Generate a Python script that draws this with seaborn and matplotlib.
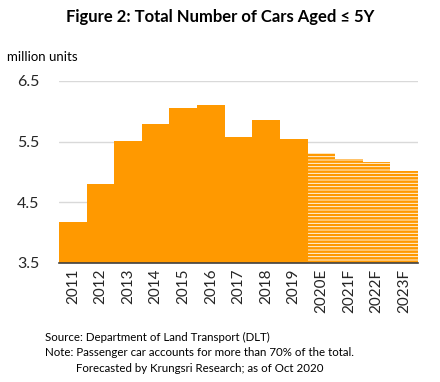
import matplotlib
matplotlib.use("Agg")
import matplotlib.pyplot as plt
import seaborn as sns
import pandas as pd

years = ["2011", "2012", "2013", "2014", "2015", "2016", "2017", "2018", "2019",
         "2020E", "2021F", "2022F", "2023F"]
values = [4.18, 4.80, 5.51, 5.79, 6.05, 6.10, 5.58, 5.86, 5.54,
          5.31, 5.21, 5.16, 5.02]
forecast = [False] * 9 + [True] * 4

sns.set_theme(style="white")
plt.rcParams['font.family'] = ['Lato', 'DejaVu Sans']
plt.rcParams['hatch.linewidth'] = 1.8

ORANGE = "#FF9900"
df = pd.DataFrame({"year": years, "value": values})

fig = plt.figure(figsize=(4.4, 3.82), dpi=100)
ax = fig.add_axes([59/440, 1 - 263/382, (418-59)/440, (263-81)/382])

sns.barplot(data=df, x="year", y="value", color=ORANGE, width=1.0,
            saturation=1, ax=ax, zorder=3)
for p, f in zip(ax.patches, forecast):
    p.set_linewidth(0)
    if f:
        p.set_facecolor("white")
        p.set_edgecolor(ORANGE)
        p.set_hatch("-----")

ax.set_ylim(3.5, 6.5)
ax.set_yticks([3.5, 4.5, 5.5, 6.5])
ax.set_yticklabels(["3.5", "4.5", "5.5", "6.5"])
ax.set_xlim(-0.5, len(years) - 0.5)
ax.yaxis.grid(True, color="#D9D9D9", linewidth=1, zorder=0)
ax.set_axisbelow(True)
for s in ["top", "right", "left"]:
    ax.spines[s].set_visible(False)
ax.spines["bottom"].set_color("#404040")
ax.spines["bottom"].set_linewidth(1.2)
ax.spines["bottom"].set_zorder(5)
ax.tick_params(axis="y", labelsize=11.5, length=0, pad=14, colors="#262626")
ax.tick_params(axis="x", labelsize=11, length=0, pad=4, labelrotation=90, colors="#262626")
ax.set_xlabel("")
ax.set_ylabel("")

fig.text(0.5, 1 - 17/382, "Figure 2: Total Number of Cars Aged ≤ 5Y", ha="center", va="center",
         fontsize=12, fontweight="bold", color="black")
fig.text(7/440, 1 - 57/382, "million units", ha="left", va="center", fontsize=9.5, color="black")
fig.text(45/440, 1 - 337/382, "Source: Department of Land Transport (DLT)", ha="left", va="center",
         fontsize=8.3, color="black")
fig.text(45/440, 1 - 353/382, "Note: Passenger car accounts for more than 70% of the total.",
         ha="left", va="center", fontsize=8.3, color="black")
fig.text(76/440, 1 - 368/382, "Forecasted by Krungsri Research; as of Oct 2020",
         ha="left", va="center", fontsize=8.3, color="black")

fig.savefig("out.png", dpi=100)
